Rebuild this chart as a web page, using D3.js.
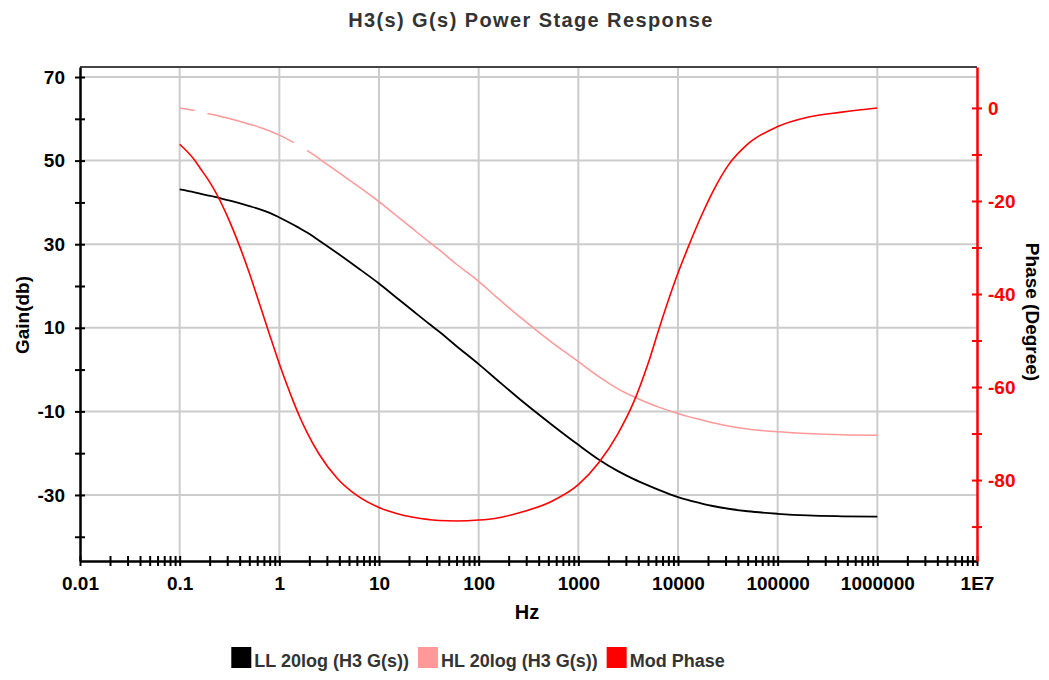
<!DOCTYPE html>
<html>
<head>
<meta charset="utf-8">
<script src="https://cdn.jsdelivr.net/npm/d3@7"></script>
<style>
  body { margin: 0; background: #fff; }
  text { font-family: "Liberation Sans", Arial, sans-serif; font-weight: bold; }
</style>
</head>
<body>
<div id="chart"></div>
<script>
////////////////////////////////////////////////////////////////////////
// Data (frequency in Hz)

let freq = [0.1, 0.141, 0.16, 0.19, 0.22, 0.32, 0.5, 0.63, 0.8, 1, 1.4, 1.6, 1.9, 2.5, 3.8, 6,
  10, 15, 22, 32, 40, 60, 100, 150, 250, 550, 1000, 1600, 2500, 3600, 5000, 6600,
  10000, 12500, 17000, 23000, 32000, 50000, 100000, 200000, 440000, 1000000];

// LL 20log (H3 G(s)) in db
let llGain = [43.1, 42.4, 42.1, 41.7, 41.4, 40.4, 39.1, 38.4, 37.5, 36.4, 34.6, 33.8, 32.8, 30.9, 27.9, 24.5,
  20.6, 17.2, 14, 10.9, 9.1, 5.6, 1.3, -2.3, -6.8, -13.3, -18, -21.5, -24.3, -26.2, -27.7, -28.9,
  -30.5, -31.2, -32, -32.7, -33.3, -33.9, -34.5, -34.9, -35.1, -35.2];

// HL 20log (H3 G(s)) in db, null where the trace has a gap
let hlGain = [62.6, 62, null, 61.3, 61, 60, 58.7, 58, 57.1, 56.1, 54.3, null, 52.4, 50.5, 47.4, 44.1,
  40.2, 36.8, 33.6, 30.5, 28.7, 25.2, 21.1, 17.4, 12.9, 6.4, 1.9, -1.7, -4.6, -6.5, -8, -9.1,
  -10.5, -11.2, -12, -12.8, -13.5, -14.2, -14.9, -15.3, -15.6, -15.7];

// Mod Phase in degrees
let modPhase = [-7.8, -11.2, -12.9, -15.2, -17.4, -24.6, -35.5, -42, -48.8, -55, -63.4, -66.4, -69.8, -74.4, -79.6, -83.3,
  -85.9, -87.2, -88, -88.5, -88.7, -88.8, -88.6, -88.2, -87.1, -84.5, -81, -76.3, -70, -63.2, -55, -46.8,
  -35.5, -30.2, -23.4, -17.5, -12.3, -7.8, -4, -2, -0.9, 0];

// axis ticks
let xTicks = [0.01, 0.1, 1, 10, 100, 1000, 10000, 100000, 1000000, 10000000];
let xTickLabels = ["0.01", "0.1", "1", "10", "100", "1000", "10000", "100000", "1000000", "1E7"];
let gainTicks = [70, 50, 30, 10, -10, -30];
let gainMinorTicks = [60, 40, 20, 0, -20, -40];
let phaseTicks = [0, -20, -40, -60, -80];
let phaseMinorTicks = [-10, -30, -50, -70, -90];

let seriesNames = ["LL 20log (H3 G(s))", "HL 20log (H3 G(s))", "Mod Phase"];
let seriesColors = ["#000000", "#ff9999", "#ff0000"];

////////////////////////////////////////////////////////////////////////
// svg and scales

let width = 1049;
let height = 680;
let plotLeft = 80, plotRight = 977, plotTop = 67, plotBottom = 561;

let svg = d3.select("#chart")
  .append("svg")
  .attr("width", width).attr("height", height);

svg.append("rect").attr("width", width).attr("height", height).attr("fill", "#fff");

let xScale = d3.scaleLog()
  .domain([0.01, 1e7])
  .range([plotLeft, plotRight]);

let gainScale = d3.scaleLinear()
  .domain([-45.8, 72.4])
  .range([plotBottom, plotTop]);

let phaseScale = d3.scaleLinear()
  .domain([-97.4, 8.8])
  .range([plotBottom, plotTop]);

// minor x ticks: 2..9 in every decade
let xMinorTicks = [];
xTicks.slice(0, -1).forEach(function(dec) {
  for (let k = 2; k <= 9; k++) xMinorTicks.push(dec * k);
});

////////////////////////////////////////////////////////////////////////
// grid

let grid = svg.append("g").attr("stroke", "#cccccc").attr("stroke-width", 2);

grid.selectAll(".vgrid")
  .data(xTicks.slice(1, -1))
  .enter()
  .append("line")
  .attr("class", "vgrid")
  .attr("x1", d => xScale(d)).attr("x2", d => xScale(d))
  .attr("y1", plotTop).attr("y2", plotBottom);

grid.selectAll(".hgrid")
  .data(gainTicks)
  .enter()
  .append("line")
  .attr("class", "hgrid")
  .attr("x1", plotLeft).attr("x2", plotRight)
  .attr("y1", d => gainScale(d)).attr("y2", d => gainScale(d));

// top border
svg.append("line")
  .attr("x1", plotLeft).attr("x2", plotRight)
  .attr("y1", plotTop).attr("y2", plotTop)
  .attr("stroke", "#444").attr("stroke-width", 2);

////////////////////////////////////////////////////////////////////////
// curves

function makeLine(yScale) {
  return d3.line()
    .defined(d => d[1] != null)
    .curve(d3.curveMonotoneX)
    .x(d => xScale(d[0]))
    .y(d => yScale(d[1]));
}

let seriesData = [
  { pts: freq.map((f, i) => [f, llGain[i]]), scale: gainScale, width: 1.8 },
  { pts: freq.map((f, i) => [f, hlGain[i]]), scale: gainScale, width: 1.5 },
  { pts: freq.map((f, i) => [f, modPhase[i]]), scale: phaseScale, width: 1.6 }
];

svg.append("g")
  .selectAll(".datapath")
  .data(seriesData)
  .enter()
  .append("path")
  .attr("class", "datapath")
  .attr("fill", "none")
  .attr("stroke", (d, i) => seriesColors[i])
  .attr("stroke-width", d => d.width)
  .attr("d", d => makeLine(d.scale)(d.pts));

////////////////////////////////////////////////////////////////////////
// axes

// makes tick marks cross the axis line
function crossTicks(g, horizontal) {
  g.selectAll(".tick line")
    .attr(horizontal ? "y1" : "x1", -5)
    .attr(horizontal ? "y2" : "x2", 5)
    .attr("stroke-width", 2);
}

let xAxisMinor = svg.append("g")
  .attr("transform", "translate(0," + plotBottom + ")")
  .call(d3.axisBottom(xScale).tickValues(xMinorTicks).tickFormat("").tickSizeOuter(0));
xAxisMinor.select(".domain").remove();
crossTicks(xAxisMinor, true);

let xAxis = svg.append("g")
  .attr("transform", "translate(0," + plotBottom + ")")
  .call(d3.axisBottom(xScale).tickValues(xTicks)
    .tickFormat((d, i) => xTickLabels[i]).tickSizeOuter(0).tickPadding(8));
xAxis.select(".domain").attr("stroke-width", 2.5);
crossTicks(xAxis, true);
xAxis.selectAll(".tick text").attr("font-size", 19).attr("fill", "#000").attr("dy", "0.78em");

let gainMinor = svg.append("g")
  .attr("transform", "translate(" + plotLeft + ",0)")
  .call(d3.axisLeft(gainScale).tickValues(gainMinorTicks).tickFormat("").tickSizeOuter(0));
gainMinor.select(".domain").remove();
crossTicks(gainMinor, false);

let gainAxis = svg.append("g")
  .attr("transform", "translate(" + plotLeft + ",0)")
  .call(d3.axisLeft(gainScale).tickValues(gainTicks)
    .tickFormat(d => String(d)).tickSizeOuter(0).tickPadding(9));
gainAxis.select(".domain").attr("stroke-width", 2.5);
crossTicks(gainAxis, false);
gainAxis.selectAll(".tick text").attr("font-size", 19).attr("fill", "#000");

let phaseMinor = svg.append("g")
  .attr("transform", "translate(" + plotRight + ",0)")
  .call(d3.axisRight(phaseScale).tickValues(phaseMinorTicks).tickFormat("").tickSizeOuter(0));
phaseMinor.select(".domain").remove();
crossTicks(phaseMinor, false);
phaseMinor.selectAll(".tick line").attr("stroke", "#ff0000");

let phaseAxis = svg.append("g")
  .attr("transform", "translate(" + plotRight + ",0)")
  .call(d3.axisRight(phaseScale).tickValues(phaseTicks)
    .tickFormat(d => String(d)).tickSizeOuter(0).tickPadding(5));
phaseAxis.select(".domain").attr("stroke", "#ff0000").attr("stroke-width", 2.5);
crossTicks(phaseAxis, false);
phaseAxis.selectAll(".tick line").attr("stroke", "#ff0000");
phaseAxis.selectAll(".tick text").attr("font-size", 19).attr("fill", "#ff0000");

////////////////////////////////////////////////////////////////////////
// labels

svg.append("text")
  .attr("x", 531).attr("y", 27)
  .attr("text-anchor", "middle")
  .attr("font-size", 20)
  .attr("letter-spacing", 1.4)
  .attr("fill", "#333")
  .text("H3(s) G(s) Power Stage Response");

svg.append("text")
  .attr("x", 527).attr("y", 619)
  .attr("text-anchor", "middle")
  .attr("font-size", 20)
  .attr("fill", "#000")
  .text("Hz");

svg.append("text")
  .attr("transform", "translate(29,315) rotate(-90)")
  .attr("text-anchor", "middle")
  .attr("font-size", 19)
  .attr("fill", "#000")
  .text("Gain(db)");

svg.append("text")
  .attr("transform", "translate(1026,312) rotate(90)")
  .attr("text-anchor", "middle")
  .attr("font-size", 19)
  .attr("fill", "#000")
  .text("Phase (Degree)");

////////////////////////////////////////////////////////////////////////
// legend

let legend = svg.append("g");
let xPos = 0;
seriesNames.forEach(function(name, i) {
  let item = legend.append("g").attr("transform", "translate(" + xPos + ",0)");
  item.append("rect")
    .attr("x", 0).attr("y", 647)
    .attr("width", 20).attr("height", 21)
    .attr("fill", seriesColors[i]);
  let t = item.append("text")
    .attr("x", 23).attr("y", 667)
    .attr("font-size", 18)
    .attr("fill", "#333")
    .text(name);
  xPos += 23 + t.node().getComputedTextLength() + 9;
});
legend.attr("transform", "translate(" + (478 - (xPos - 9) / 2) + ",0)");
</script>
</body>
</html>
